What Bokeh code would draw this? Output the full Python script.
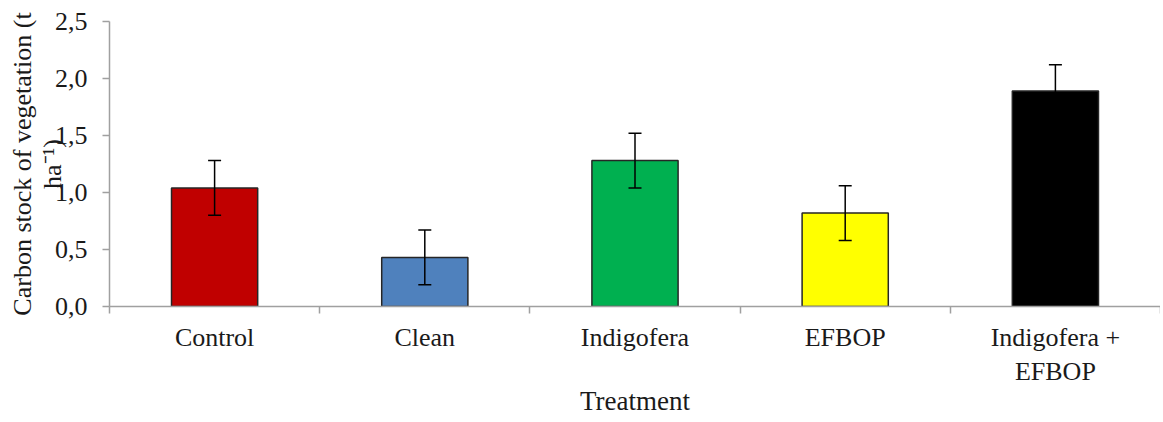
from bokeh.plotting import figure
from bokeh.models import Range1d, FixedTicker, ColumnDataSource, Whisker, TeeHead, LinearAxis
from bokeh.embed import file_html
from bokeh.resources import INLINE

# ---- data ----
treatments = ["Control", "Clean", "Indigofera", "EFBOP", "Indigofera +\nEFBOP"]
carbon_stock = [1.04, 0.43, 1.28, 0.82, 1.89]
std_error = [0.24, 0.24, 0.24, 0.24, 0.23]
bar_colors = ["#C00000", "#4F81BD", "#00B050", "#FFFF00", "#000000"]
y_ticks = [0.0, 0.5, 1.0, 1.5, 2.0, 2.5]
y_tick_labels = ["0,0", "0,5", "1,0", "1,5", "2,0", "2,5"]
x_title = "Treatment"
y_title_lines = ["Carbon stock of vegetation (t", "ha\u207b\u00b9)"]

FONT = "Liberation Serif"
TEXT = "#1a1a1a"
AXIS = "#a0a0a0"

n = len(treatments)
xs = [i + 0.5 for i in range(n)]
src = ColumnDataSource(dict(
    x=xs, top=carbon_stock, color=bar_colors,
    upper=[m + e for m, e in zip(carbon_stock, std_error)],
    lower=[m - e for m, e in zip(carbon_stock, std_error)],
))

p = figure(width=1160, height=420, x_range=Range1d(0, n), y_range=Range1d(0, 2.5),
           output_backend="svg", toolbar_location=None, y_axis_location=None,
           min_border_left=109, min_border_right=0, min_border_top=21, min_border_bottom=114)
p.outline_line_color = None
p.grid.visible = False
for g in p.grid:
    g.grid_line_color = None

p.vbar(x="x", top="top", width=0.41, bottom=0, fill_color="color",
       line_color="#262626", line_width=1.5, source=src)

w = Whisker(base="x", upper="upper", lower="lower", source=src, dimension="height",
            line_color="#000000", line_width=1.5, level="overlay",
            upper_head=TeeHead(size=13, line_color="#000000", line_width=1.5),
            lower_head=TeeHead(size=13, line_color="#000000", line_width=1.5))
p.add_layout(w)

# x axis
p.xaxis.ticker = FixedTicker(ticks=xs, minor_ticks=list(range(n + 1)))
p.xaxis.major_label_overrides = {x: t for x, t in zip(xs, treatments)}
p.xaxis.major_tick_line_color = None
p.xaxis.major_tick_out = 0
p.xaxis.major_tick_in = 0
p.xaxis.minor_tick_out = 7
p.xaxis.minor_tick_in = 0
p.xaxis.minor_tick_line_color = AXIS
p.xaxis.minor_tick_line_width = 1.5
p.xaxis.axis_line_color = AXIS
p.xaxis.axis_line_width = 1.5
p.xaxis.major_label_standoff = 9
p.xaxis.major_label_text_font = FONT
p.xaxis.major_label_text_font_size = "26px"
p.xaxis.major_label_text_color = TEXT
p.xaxis.axis_label = x_title
p.xaxis.axis_label_text_font = FONT
p.xaxis.axis_label_text_font_size = "27px"
p.xaxis.axis_label_text_font_style = "normal"
p.xaxis.axis_label_text_color = TEXT
p.xaxis.axis_label_standoff = -3

# inner y axis: ticks, tick labels, second title line
yax = LinearAxis(ticker=FixedTicker(ticks=y_ticks, minor_ticks=[]))
yax.major_label_overrides = {t: l for t, l in zip(y_ticks, y_tick_labels)}
yax.major_tick_out = 7
yax.major_tick_in = 0
yax.major_tick_line_color = AXIS
yax.major_tick_line_width = 1.5
yax.axis_line_color = AXIS
yax.axis_line_width = 1.5
yax.major_label_standoff = 15
yax.major_label_text_font = FONT
yax.major_label_text_font_size = "26px"
yax.major_label_text_color = TEXT
yax.axis_label = y_title_lines[1]
yax.axis_label_text_font = FONT
yax.axis_label_text_font_size = "26px"
yax.axis_label_text_font_style = "normal"
yax.axis_label_text_color = TEXT
yax.axis_label_standoff = -15
p.add_layout(yax, "left")

# outer y axis: first title line only
yax2 = LinearAxis(ticker=FixedTicker(ticks=[], minor_ticks=[]))
yax2.axis_line_color = None
yax2.major_tick_line_color = None
yax2.minor_tick_line_color = None
yax2.major_label_text_font_size = "0px"
yax2.axis_label = y_title_lines[0]
yax2.axis_label_text_font = FONT
yax2.axis_label_text_font_size = "26px"
yax2.axis_label_text_font_style = "normal"
yax2.axis_label_text_color = TEXT
yax2.axis_label_standoff = -2
p.add_layout(yax2, "left")

open("out.html", "w").write(file_html(p, INLINE))
